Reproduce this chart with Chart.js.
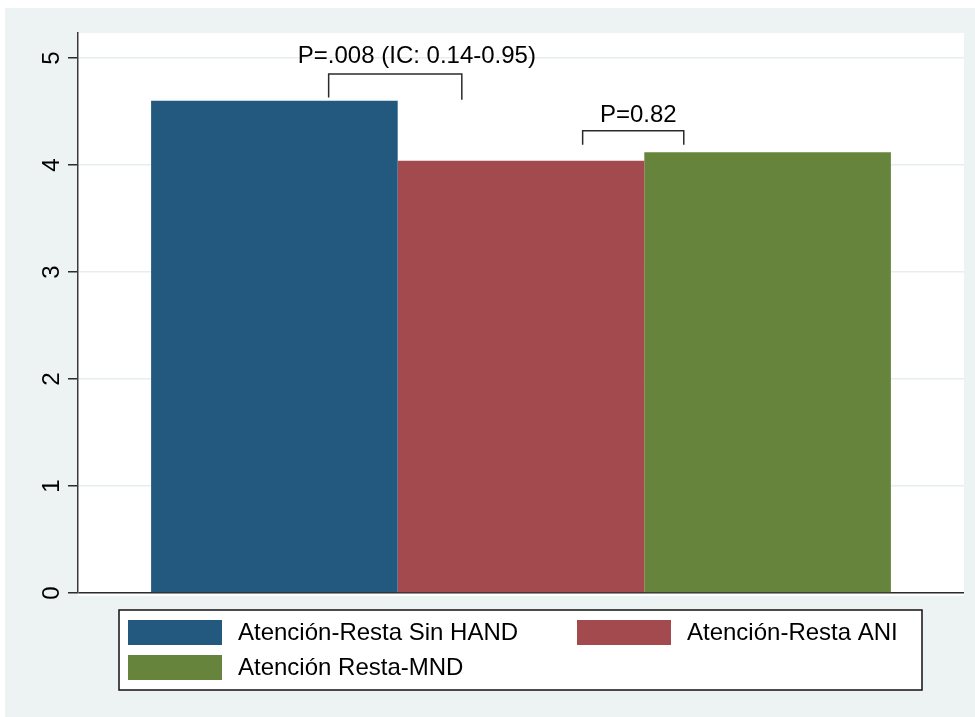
<!DOCTYPE html>
<html>
<head>
<meta charset="utf-8">
<script src="https://cdn.jsdelivr.net/npm/chart.js@4/dist/chart.umd.min.js"></script>
<style>
  html, body { margin: 0; padding: 0; background: #ffffff; }
  #frame { position: absolute; left: 5px; top: 8px; width: 970px; height: 709px; background: #edf2f2; }
  #c { position: absolute; left: 0; top: 0; }
</style>
</head>
<body>
<div id="frame"></div>
<canvas id="c" width="975" height="717"></canvas>
<script>
// Mean scores per group
const categories = [''];
const seriesLabels = ['Atención-Resta Sin HAND', 'Atención-Resta ANI', 'Atención Resta-MND'];
const seriesValues = [4.6, 4.04, 4.12];
const seriesColors = ['#23597f', '#a34a4f', '#66843c'];
const yTicks = [0, 1, 2, 3, 4, 5];
const pLabels = ['P=.008 (IC: 0.14-0.95)', 'P=0.82'];

// Comparison brackets: ends are given as (dataset, fraction across that bar)
const brackets = [
  { a: [0, 0.72], b: [1, 0.26], top: 4.85, ends: [4.63, 4.61], text: pLabels[0], textAt: [0, 0.595], textY: 4.955 },
  { a: [1, 0.75], b: [2, 0.16], top: 4.32, ends: [4.19, 4.19], text: pLabels[1], textAt: [1, 0.82], textY: 4.40 }
];

const FONT = '"Liberation Sans", Arial, Helvetica, sans-serif';

const plotBackground = {
  id: 'plotBackground',
  beforeDraw(chart) {
    const { ctx, chartArea: a } = chart;
    ctx.save();
    ctx.fillStyle = '#ffffff';
    ctx.fillRect(a.left, a.top, a.right - a.left, a.bottom - a.top + 3);
    ctx.restore();
  }
};

function barX(chart, ref) {
  const el = chart.getDatasetMeta(ref[0]).data[0];
  const left = el.x - el.width / 2;
  return left + ref[1] * el.width;
}

const bracketPlugin = {
  id: 'brackets',
  afterDatasetsDraw(chart) {
    const { ctx } = chart;
    const y = chart.scales.y;
    ctx.save();
    ctx.strokeStyle = '#2b2b2b';
    ctx.lineWidth = 1.5;
    brackets.forEach(b => {
      const xa = barX(chart, b.a), xb = barX(chart, b.b);
      const yt = y.getPixelForValue(b.top);
      ctx.beginPath();
      ctx.moveTo(xa, y.getPixelForValue(b.ends[0]));
      ctx.lineTo(xa, yt);
      ctx.lineTo(xb, yt);
      ctx.lineTo(xb, y.getPixelForValue(b.ends[1]));
      ctx.stroke();
      ctx.fillStyle = '#000000';
      ctx.font = '24px ' + FONT;
      ctx.textAlign = 'left';
      ctx.textBaseline = 'alphabetic';
      ctx.fillText(b.text, barX(chart, b.textAt), y.getPixelForValue(b.textY));
    });
    ctx.restore();
  }
};

// Boxed legend under the plot, two columns
const boxLegend = {
  id: 'boxLegend',
  afterDraw(chart) {
    const { ctx } = chart;
    const box = { x: 119, y: 610, w: 803, h: 80 };
    const cols = [128, 577], rows = [620, 655];
    ctx.save();
    ctx.fillStyle = '#ffffff';
    ctx.fillRect(box.x, box.y, box.w, box.h);
    ctx.strokeStyle = '#111111';
    ctx.lineWidth = 1.5;
    ctx.strokeRect(box.x, box.y, box.w, box.h);
    ctx.font = '24px ' + FONT;
    ctx.textAlign = 'left';
    ctx.textBaseline = 'middle';
    chart.data.datasets.forEach((ds, i) => {
      const x = cols[i % 2], yy = rows[Math.floor(i / 2)];
      ctx.fillStyle = ds.backgroundColor;
      ctx.fillRect(x, yy, 94, 25);
      ctx.fillStyle = '#000000';
      ctx.fillText(ds.label, x + 110, yy + 13);
    });
    ctx.restore();
  }
};

new Chart(document.getElementById('c'), {
  type: 'bar',
  data: {
    labels: categories,
    datasets: seriesLabels.map((label, i) => ({
      label,
      data: [seriesValues[i]],
      backgroundColor: seriesColors[i],
      borderWidth: 0,
      categoryPercentage: 0.835,
      barPercentage: 1
    }))
  },
  options: {
    responsive: false,
    animation: false,
    layout: { padding: { top: 33, right: 11, bottom: 124, left: 0 } },
    plugins: { legend: { display: false }, tooltip: { enabled: false } },
    scales: {
      x: { display: false, offset: true },
      y: {
        min: 0,
        max: 5.234,
        afterFit(scale) { scale.width = 78; },
        afterBuildTicks(scale) { scale.ticks = yTicks.map(v => ({ value: v })); },
        ticks: {
          stepSize: 1,
          includeBounds: false,
          minRotation: 90,
          maxRotation: 90,
          crossAlign: 'center',
          padding: 9,
          color: '#000000',
          font: { family: FONT, size: 24 }
        },
        grid: {
          color: c => (c.tick && c.tick.value === 0) ? '#2b2b2b' : '#e8eeee',
          lineWidth: 1.5,
          tickLength: 10,
          tickColor: '#2b2b2b'
        },
        border: { color: '#3a3a3a', width: 1.5 }
      }
    }
  },
  plugins: [plotBackground, bracketPlugin, boxLegend]
});
</script>
</body>
</html>
